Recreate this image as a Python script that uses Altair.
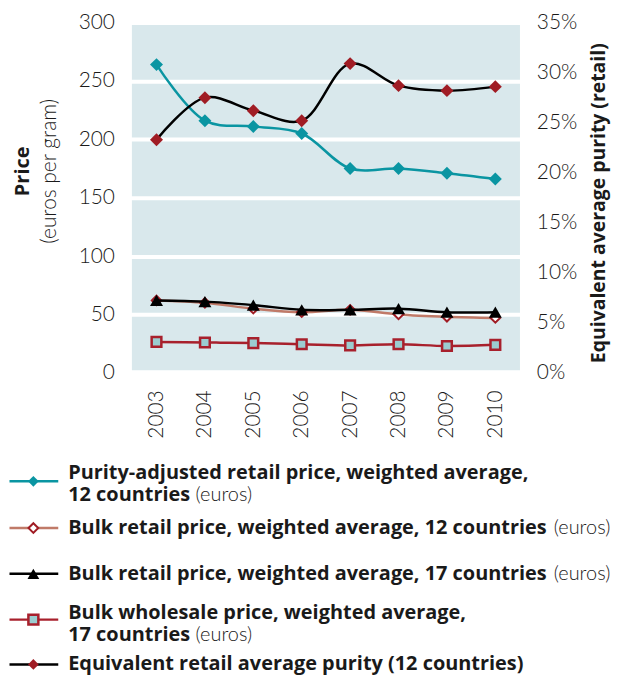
import altair as alt
import pandas as pd

# ---- data ----
years = ["2003", "2004", "2005", "2006", "2007", "2008", "2009", "2010"]
purity_adjusted = [264, 216, 211, 205, 175, 175, 171, 166]
bulk_retail_12 = [62, 60, 55, 52, 54, 50, 48, 47]
bulk_retail_17 = [62, 61, 58, 54, 54, 55, 52, 52]
bulk_wholesale_17 = [26.5, 26, 25.5, 24.5, 23.5, 24.5, 23, 24]
retail_purity = [0.233, 0.275, 0.262, 0.252, 0.309, 0.287, 0.282, 0.286]

price_ticks = [0, 50, 100, 150, 200, 250, 300]
purity_ticks = [0, 0.05, 0.10, 0.15, 0.20, 0.25, 0.30, 0.35]

LFONT = "Lato"
BFONT = "Open Sans"
TEAL = "#0a95a2"
RED = "#a01c24"
BROWN = "#c07a68"
WRED = "#a8202c"
SQFILL = "#9bcdd0"
BG = "#d9e8ec"
TXT = "#1a1a1a"

W, H = 395, 352

def df(vals):
    return pd.DataFrame({"year": years, "v": vals})

xenc = alt.X("year:O", scale=alt.Scale(type="point", padding=0.56),
             axis=alt.Axis(title=None, labelAngle=270, labelAlign="right",
                           labelBaseline="middle", ticks=False, domain=False,
                           grid=False, labelPadding=17, labelFontSize=21,
                           labelFont=LFONT, labelFontWeight=300, labelColor=TXT))

price_scale = alt.Scale(domain=[0, 300], nice=False, zero=True)
price_axis = alt.Axis(values=price_ticks, grid=True, gridColor="white", gridWidth=4,
                      gridOpacity=1, ticks=False, domain=False, labelPadding=15,
                      labelFontSize=21, labelFont=LFONT, labelFontWeight=300,
                      labelColor=TXT, title="Price", titleFont=BFONT, titleFontSize=20,
                      titleFontWeight="bold", titleColor=TXT, titleAngle=270,
                      titleX=-107.5, titleY=149, titleAlign="center",
                      titleBaseline="middle")

def price_series(vals, color, shape, fill, stroke, size, sw=0):
    y = alt.Y("v:Q", scale=price_scale, axis=price_axis)
    base = alt.Chart(df(vals))
    line = base.mark_line(color=color, strokeWidth=2.5, interpolate="catmull-rom").encode(x=xenc, y=y)
    pts = base.mark_point(shape=shape, filled=True, fill=fill, stroke=stroke,
                          strokeWidth=sw, size=size, opacity=1).encode(x=xenc, y=y)
    return line + pts

wholesale_l = price_series(bulk_wholesale_17, WRED, "square", SQFILL, WRED, 95, sw=2.5)
bulk12_l = price_series(bulk_retail_12, BROWN, "diamond", "white", RED, 90, sw=2)
bulk17_l = price_series(bulk_retail_17, "black", "triangle-up", "black", "black", 170)
teal_l = price_series(purity_adjusted, TEAL, "diamond", TEAL, TEAL, 170)

price_layer = alt.layer(wholesale_l, bulk12_l, bulk17_l, teal_l)

purity_axis = alt.Axis(orient="right", values=purity_ticks, format=".0%", grid=False,
                       ticks=False, domain=False, labelPadding=14, labelFontSize=21,
                       labelFont=LFONT, labelFontWeight=300, labelColor=TXT,
                       title="Equivalent average purity (retail)", titleFont=BFONT,
                       titleFontSize=19.5, titleFontWeight="bold", titleColor=TXT,
                       titleAngle=270, titleX=76, titleY=181, titleAlign="center",
                       titleBaseline="middle")
py = alt.Y("v:Q", scale=alt.Scale(domain=[0, 0.35], nice=False), axis=purity_axis)
pbase = alt.Chart(df(retail_purity))
purity_layer = alt.layer(
    pbase.mark_line(color="black", strokeWidth=2.5, interpolate="catmull-rom").encode(x=xenc, y=py),
    pbase.mark_point(shape="diamond", filled=True, fill=RED, size=170, opacity=1).encode(x=xenc, y=py),
)

# ---- extra y-axis subtitle ----
sub = alt.Chart(pd.DataFrame({"t": ["(euros per gram)"]})).mark_text(
    angle=270, font=LFONT, fontSize=21, fontWeight=300, color=TXT,
    align="center", baseline="middle").encode(
    x=alt.value(-79.5), y=alt.value(149.5), text="t:N")

# ---- custom legend ----
legend_items = [
    {"color": TEAL, "shape": "diamond", "fill": TEAL, "stroke": TEAL, "sw": 0, "size": 115, "ys": 461,
     "lines": [("Purity-adjusted retail price, weighted average,", 453, "bold", -61.5),
               ("12 countries", 475, "bold", -61.5), ("(euros)", 475, "normal", 66.5)]},
    {"color": BROWN, "shape": "diamond", "fill": "white", "stroke": RED, "sw": 2, "size": 95, "ys": 508,
     "lines": [("Bulk retail price, weighted average, 12 countries", 508, "bold", -61.5),
               ("(euros)", 508, "normal", 426.5)]},
    {"color": "black", "shape": "triangle-up", "fill": "black", "stroke": "black", "sw": 0, "size": 140, "ys": 554,
     "lines": [("Bulk retail price, weighted average, 17 countries", 554, "bold", -61.5),
               ("(euros)", 554, "normal", 426.5)]},
    {"color": WRED, "shape": "square", "fill": SQFILL, "stroke": WRED, "sw": 2.5, "size": 100, "ys": 600,
     "lines": [("Bulk wholesale price, weighted average,", 593, "bold", -61.5),
               ("17 countries", 615, "bold", -61.5), ("(euros)", 615, "normal", 66.5)]},
    {"color": "black", "shape": "diamond", "fill": RED, "stroke": RED, "sw": 0, "size": 115, "ys": 645,
     "lines": [("Equivalent retail average purity (12 countries)", 645, "bold", -61.5)]},
]

legend_layers = []
for it in legend_items:
    one = pd.DataFrame({"k": [1]})
    legend_layers.append(alt.Chart(one).mark_rule(color=it["color"], strokeWidth=2.5).encode(
        x=alt.value(-120.5), x2=alt.value(-71.5), y=alt.value(it["ys"])))
    legend_layers.append(alt.Chart(one).mark_point(
        shape=it["shape"], filled=True, fill=it["fill"], stroke=it["stroke"],
        strokeWidth=it["sw"], size=it["size"], opacity=1).encode(
        x=alt.value(-96.5), y=alt.value(it["ys"])))
    for text, yy, wt, xx in it["lines"]:
        if wt == "bold":
            mk = alt.Chart(pd.DataFrame({"t": [text]})).mark_text(
                font=BFONT, fontSize=20, fontWeight="bold", color=TXT,
                align="left", baseline="middle")
        else:
            mk = alt.Chart(pd.DataFrame({"t": [text]})).mark_text(
                font=LFONT, fontSize=20, fontWeight=300, color=TXT,
                align="left", baseline="middle")
        legend_layers.append(mk.encode(x=alt.value(xx), y=alt.value(yy), text="t:N"))

chart = alt.layer(price_layer, purity_layer, sub, *legend_layers).resolve_scale(
    y="independent"
).properties(
    width=W, height=H, padding={"left": 0, "top": 2, "right": 1, "bottom": 0}
).configure_view(fill=BG, stroke="white", strokeWidth=5)

chart.save("out.html", embed_options={"renderer": "svg", "actions": False})
